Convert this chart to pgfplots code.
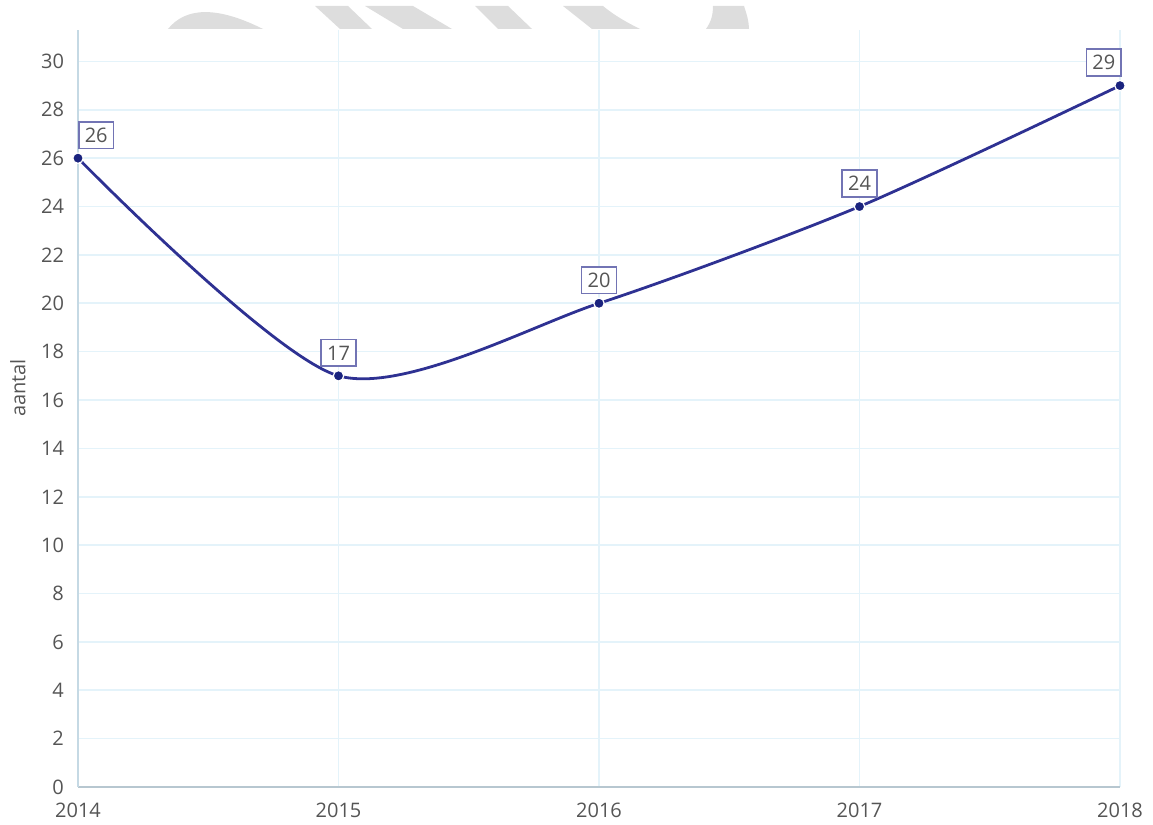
\documentclass[border=0pt]{standalone}
\usepackage{fontspec}
\setmainfont{Open Sans}
\usepackage{pgfplots}
\pgfplotsset{compat=1.18}
\definecolor{linenavy}{HTML}{2E3192}
\definecolor{marknavy}{HTML}{1A237E}
\definecolor{boxedge}{HTML}{7274B4}
\definecolor{gridblue}{HTML}{E4F3FA}
\definecolor{axisblue}{HTML}{C5D9E4}
\definecolor{ticktext}{HTML}{555555}
\definecolor{wmark}{HTML}{DDDDDD}

\begin{document}
\begin{tikzpicture}
\begin{axis}[
  scale only axis,
  width=521pt, height=378.5pt,
  xmin=2014, xmax=2018,
  ymin=0, ymax=31.3,
  xtick={2014,2015,2016,2017,2018},
  ytick={0,2,...,30},
  /pgf/number format/1000 sep={},
  /pgf/number format/assume math mode=true,
  axis x line*=bottom, axis y line*=left,
  axis line style={-, draw=axisblue, line width=1pt},
  x axis line style={draw=axisblue!80!gray},
  major tick length=0pt,
  grid=major,
  grid style={draw=gridblue, line width=0.8pt},
  tick label style={font=\fontsize{10}{12}\selectfont, text=ticktext},
  xticklabel style={yshift=-4.5pt},
  yticklabel style={xshift=-3.5pt},
  clip=false,
  every node near coord/.append style={
    font=\fontsize{10}{12}\selectfont, text=ticktext,
    draw=boxedge, line width=0.8pt, fill=white,
    inner xsep=3pt, inner ysep=3pt, text height=7.3pt, text depth=0pt,
  },
]
\addplot[linenavy, line width=1.4pt, smooth, tension=0.45,
  mark=*, mark size=2.6pt,
  mark options={fill=marknavy, draw=white, line width=0.6pt}]
  coordinates {(2014,26)(2015,17)(2016,20)(2017,24)(2018,29)};
% value labels
\addplot[draw=none, mark=none, nodes near coords,
  nodes near coords style={anchor=south west, yshift=4.5pt}]
  coordinates {(2014,26)};
\addplot[draw=none, mark=none, nodes near coords,
  nodes near coords style={anchor=south, yshift=4.5pt}]
  coordinates {(2015,17)(2016,20)(2017,24)};
\addplot[draw=none, mark=none, nodes near coords,
  nodes near coords style={anchor=south east, xshift=1pt, yshift=4.5pt}]
  coordinates {(2018,29)};
\node[rotate=90, font=\fontsize{10}{12}\selectfont, text=ticktext]
  at ([xshift=-30pt]rel axis cs:0,0.527) {aantal};
\end{axis}
% watermark and page frame, in reference pixels
\begin{scope}[x=0.5pt, y=-0.5pt, shift={(-39pt,393.5pt)}]
  \fill[wmark] (168,29) .. controls (185,8) and (215,5) .. (263,29) -- cycle;
  \fill[wmark] (315,6) -- (348,6) -- (372,29) -- (340,29) -- cycle;
  \fill[wmark] (365,6) -- (413,6) -- (452,29) -- (403,29) -- cycle;
  \fill[wmark] (475,6) -- (508,6) -- (532,29) -- (498,29) -- cycle;
  \fill[wmark] (563,6) -- (603,6) .. controls (615,16) and (628,23) .. (640,29) -- (592,29) -- cycle;
  \fill[wmark] (713,6) -- (744,6) .. controls (747,15) and (749,22) .. (749,29) -- (706,29) .. controls (711,22) and (713,15) .. (713,6) -- cycle;
  \path (0,0) rectangle (1153,821);
\end{scope}
\end{tikzpicture}
\end{document}
